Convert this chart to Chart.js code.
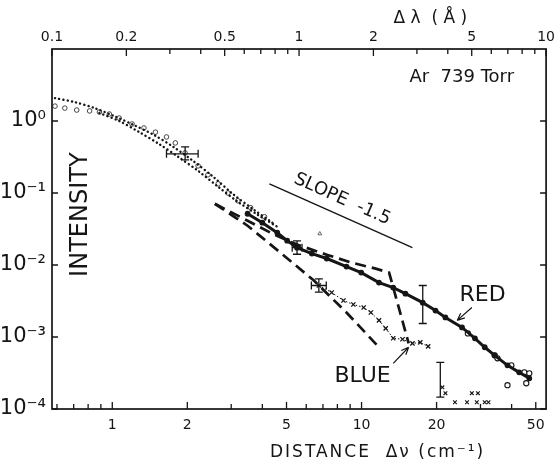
<!DOCTYPE html>
<html>
<head>
<meta charset="utf-8">
<script src="https://cdn.jsdelivr.net/npm/chart.js@4.4.1/dist/chart.umd.min.js"></script>
<style>
    html, body { margin: 0; padding: 0; background: #fff; }
</style>
</head>
<body>
<canvas id="spectrumChart" width="558" height="461"></canvas>
<script>
// Dati: distanza Δν (cm^-1) e intensità relativa
const circleX = [0.589, 0.645, 0.72, 0.811, 0.888, 0.973, 1.066, 1.20, 1.34, 1.49, 1.65, 1.79, 1.96, 2.21, 2.42, 2.66, 2.91, 3.19, 3.59, 4.08];
const circleY = [1.61, 1.51, 1.42, 1.38, 1.33, 1.25, 1.10, 0.909, 0.80, 0.70, 0.60, 0.496, 0.36, 0.238, 0.179, 0.134, 0.10, 0.078, 0.0624, 0.0468];

const redX = [3.49, 4.0, 4.59, 5.03, 5.51, 6.32, 7.25, 8.7, 9.97, 11.75, 13.4, 15.0, 17.6, 19.8, 21.7, 25.3, 28.5, 31.2, 34.2, 38.5, 42.9, 47.1];
const redY = [0.0515, 0.0387, 0.0281, 0.0218, 0.0174, 0.0144, 0.0123, 0.0095, 0.00785, 0.0057, 0.00486, 0.0040, 0.0030, 0.00233, 0.00187, 0.00136, 0.00096, 0.00072, 0.000556, 0.000404, 0.000323, 0.000267];

const tailX = [26.7, 34.2, 35.1, 39.9, 45.0, 38.5, 45.8, 47.1];
const tailY = [0.00112, 0.000556, 0.000506, 0.000404, 0.000323, 0.000214, 0.000228, 0.000313];

const blueX = [6.74, 7.59, 8.46, 9.27, 10.2, 10.9, 11.75, 12.5, 13.4, 14.6, 16.0, 17.2, 18.5];
const blueY = [0.00519, 0.00415, 0.00321, 0.00283, 0.00257, 0.00219, 0.0017, 0.00132, 0.00096, 0.00093, 0.000815, 0.00084, 0.00074];

const strayX = [21.1, 21.7, 23.7, 26.5, 27.7, 29.3, 29.0, 31.2, 32.3];
const strayY = [2.0e-4, 1.66e-4, 1.24e-4, 1.24e-4, 1.66e-4, 1.66e-4, 1.24e-4, 1.24e-4, 1.24e-4];

// curve teoriche (punteggiate e tratteggiate)
const dotAX = [0.589, 0.707, 0.849, 1.018, 1.22, 1.47, 1.76, 2.11, 2.54, 3.04, 3.66, 4.39];
const dotAY = [2.08, 1.83, 1.51, 1.17, 0.88, 0.64, 0.436, 0.279, 0.168, 0.0975, 0.060, 0.0387];
const dotBX = [0.888, 1.066, 1.28, 1.54, 1.84, 2.21, 2.66, 3.19, 3.83, 4.59];
const dotBY = [1.29, 1.0, 0.704, 0.48, 0.317, 0.203, 0.122, 0.0755, 0.0499, 0.034];

const dashRedX = [2.58, 3.49, 4.39, 5.51, 7.25, 9.1, 11.4, 12.9, 15.45];
const dashRedY = [0.0708, 0.0412, 0.0272, 0.0192, 0.0139, 0.0108, 0.0089, 0.00785, 0.000815];
const dashBlueX = [2.58, 3.49, 4.72, 6.44, 8.7, 11.75];
const dashBlueY = [0.0708, 0.0351, 0.0149, 0.00608, 0.00219, 0.00072];

const slopeX = [4.27, 16.0];
const slopeY = [0.134, 0.0174];

const triangleX = [6.8];
const triangleY = [0.0272];

// barre d'errore
const errX   = [1.96, 5.51, 6.74, 17.6, 20.7];
const errY   = [0.35, 0.0174, 0.00519, 0.0030, 2.6e-4];
const errXlo = [1.65, 5.27, 6.29, null, null];
const errXhi = [2.21, 5.77, 7.22, null, null];
const errYlo = [0.288, 0.0141, 0.0042, 0.00154, 1.46e-4];
const errYhi = [0.436, 0.0216, 0.00643, 0.00519, 4.45e-4];

// tacche degli assi
const xTicks = [0.6, 0.7, 0.8, 0.9, 1, 2, 3, 4, 5, 6, 7, 8, 9, 10, 20, 30, 40, 50];
const xLabeled = [1, 2, 5, 10, 20, 50];
const topTicks = [0.1, 0.2, 0.3, 0.4, 0.5, 0.6, 0.7, 0.8, 0.9, 1, 2, 3, 4, 5, 6, 7, 8, 9, 10];
const topLabeled = [0.1, 0.2, 0.5, 1, 2, 5, 10];
const yTicks = [1e-4, 1e-3, 1e-2, 1e-1, 1];

const FONT = "'DejaVu Sans', sans-serif";
const INK = "#151515";

function pts(xs, ys) {
    return xs.map((x, i) => ({ x: x, y: ys[i] }));
}

// esponenti in apice per le etichette 10^n
function superscript(n) {
    const map = { "-": "⁻", "0": "⁰", "1": "¹", "2": "²", "3": "³", "4": "⁴" };
    return String(n).split("").map(c => map[c]).join("");
}

// Plugin: cornice, tacche interne, titoli ed annotazioni
const paperDecor = {
    id: "paperDecor",
    afterDatasetsDraw(chart) {
        const { ctx, chartArea: a, scales } = chart;
        const sx = scales.x, sy = scales.y, st = scales.x2;
        ctx.save();
        ctx.strokeStyle = INK;
        ctx.fillStyle = INK;

        // cornice
        ctx.lineWidth = 1.7;
        ctx.strokeRect(a.left, a.top, a.right - a.left, a.bottom - a.top);

        ctx.lineWidth = 1.3;
        ctx.beginPath();
        xTicks.forEach(v => {
            const px = sx.getPixelForValue(v);
            const len = xLabeled.includes(v) ? 7 : 5;
            ctx.moveTo(px, a.bottom);
            ctx.lineTo(px, a.bottom - len);
        });
        topTicks.forEach(v => {
            const px = st.getPixelForValue(v);
            const len = topLabeled.includes(v) ? 7 : 5;
            ctx.moveTo(px, a.top);
            ctx.lineTo(px, a.top + len);
        });
        yTicks.forEach(v => {
            const py = sy.getPixelForValue(v);
            ctx.moveTo(a.left, py);
            ctx.lineTo(a.left + 6, py);
            ctx.moveTo(a.right, py);
            ctx.lineTo(a.right - 6, py);
        });
        ctx.stroke();

        // barre d'errore
        ctx.lineWidth = 1.3;
        const cap = 4;
        errX.forEach((x, i) => {
            const px = sx.getPixelForValue(x);
            const y0 = sy.getPixelForValue(errYlo[i]);
            const y1 = sy.getPixelForValue(errYhi[i]);
            ctx.beginPath();
            ctx.moveTo(px, y0); ctx.lineTo(px, y1);
            ctx.moveTo(px - cap, y0); ctx.lineTo(px + cap, y0);
            ctx.moveTo(px - cap, y1); ctx.lineTo(px + cap, y1);
            if (errXlo[i] !== null) {
                const py = sy.getPixelForValue(errY[i]);
                const x0 = sx.getPixelForValue(errXlo[i]);
                const x1 = sx.getPixelForValue(errXhi[i]);
                ctx.moveTo(x0, py); ctx.lineTo(x1, py);
                ctx.moveTo(x0, py - cap); ctx.lineTo(x0, py + cap);
                ctx.moveTo(x1, py - cap); ctx.lineTo(x1, py + cap);
            }
            ctx.stroke();
        });

        // frecce RED / BLUE
        const arrow = (xa, ya, xb, yb) => {
            const x0 = sx.getPixelForValue(xa), y0 = sy.getPixelForValue(ya);
            const x1 = sx.getPixelForValue(xb), y1 = sy.getPixelForValue(yb);
            const ang = Math.atan2(y1 - y0, x1 - x0);
            ctx.beginPath();
            ctx.moveTo(x0, y0); ctx.lineTo(x1, y1);
            ctx.moveTo(x1, y1); ctx.lineTo(x1 - 8 * Math.cos(ang - 0.4), y1 - 8 * Math.sin(ang - 0.4));
            ctx.moveTo(x1, y1); ctx.lineTo(x1 - 8 * Math.cos(ang + 0.4), y1 - 8 * Math.sin(ang + 0.4));
            ctx.stroke();
        };
        ctx.lineWidth = 1.2;
        arrow(27.7, 0.00257, 24.2, 0.0017);
        arrow(13.4, 4.3e-4, 15.45, 7.2e-4);

        ctx.textAlign = "center";
        ctx.textBaseline = "middle";
        ctx.font = "22px " + FONT;
        ctx.fillText("RED", sx.getPixelForValue(30.6), sy.getPixelForValue(0.00377));
        ctx.fillText("BLUE", sx.getPixelForValue(10.1), sy.getPixelForValue(2.85e-4));

        // testo della pendenza, ruotato come la retta
        const p0x = sx.getPixelForValue(slopeX[0]), p0y = sy.getPixelForValue(slopeY[0]);
        const p1x = sx.getPixelForValue(slopeX[1]), p1y = sy.getPixelForValue(slopeY[1]);
        const ang = Math.atan2(p1y - p0y, p1x - p0x);
        ctx.save();
        ctx.translate((p0x + p1x) / 2 + 8 * Math.sin(ang) - 2, (p0y + p1y) / 2 - 18 * Math.cos(ang));
        ctx.rotate(ang);
        ctx.font = "18px " + FONT;
        ctx.fillText("SLOPE  -1.5", 0, 0);
        ctx.restore();

        // titolo asse y dentro il grafico
        ctx.save();
        ctx.translate(a.left + 29, sy.getPixelForValue(0.05));
        ctx.rotate(-Math.PI / 2);
        ctx.font = "24px " + FONT;
        ctx.fillText("INTENSITY", 0, 0);
        ctx.restore();

        ctx.font = "18px " + FONT;
        ctx.textAlign = "right";
        ctx.fillText("Ar  739 Torr", a.right - 32, a.top + 28);

        // titoli assi x
        ctx.textAlign = "center";
        ctx.font = "17px " + FONT;
        ctx.fillText("Δ λ  ( Å )", st.getPixelForValue(3.4), 19);
        ctx.letterSpacing = "2px";
        ctx.fillText("DISTANCE  Δν (cm⁻¹)", sx.getPixelForValue(11.6), 453);
        ctx.restore();
    }
};

const ctx = document.getElementById("spectrumChart").getContext("2d");

new Chart(ctx, {
    type: "scatter",
    data: {
        datasets: [
            {
                data: pts(dotAX, dotAY), showLine: true, tension: 0.3,
                borderColor: INK, borderWidth: 2.4, borderDash: [0.1, 4.2], borderCapStyle: "round",
                pointRadius: 0
            },
            {
                data: pts(dotBX, dotBY), showLine: true, tension: 0.3,
                borderColor: INK, borderWidth: 2.4, borderDash: [0.1, 4.2], borderCapStyle: "round",
                pointRadius: 0
            },
            {
                data: pts(circleX, circleY),
                pointStyle: "circle", pointRadius: 2.3,
                pointBackgroundColor: "#fff", pointBorderColor: "#333", pointBorderWidth: 0.9
            },
            {
                data: pts(redX, redY), showLine: true,
                borderColor: INK, borderWidth: 3,
                pointRadius: 1.4, pointBackgroundColor: INK, pointBorderColor: INK
            },
            {
                data: pts(tailX, tailY),
                pointStyle: "circle", pointRadius: 2.6,
                pointBackgroundColor: "#fff", pointBorderColor: INK, pointBorderWidth: 1.1
            },
            {
                data: pts(dashRedX, dashRedY), showLine: true,
                borderColor: INK, borderWidth: 2.7, borderDash: [11, 6], pointRadius: 0
            },
            {
                data: pts(dashBlueX, dashBlueY), showLine: true,
                borderColor: INK, borderWidth: 2.7, borderDash: [11, 6], pointRadius: 0
            },
            {
                data: pts(blueX, blueY), showLine: true,
                borderColor: INK, borderWidth: 1, borderDash: [1.5, 2],
                pointStyle: "crossRot", pointRadius: 3, pointBorderColor: INK, pointBorderWidth: 1.3
            },
            {
                data: pts(strayX, strayY),
                pointStyle: "crossRot", pointRadius: 2.6, pointBorderColor: INK, pointBorderWidth: 1.1
            },
            {
                data: pts(slopeX, slopeY), showLine: true,
                borderColor: INK, borderWidth: 1.4, pointRadius: 0
            },
            {
                data: pts(triangleX, triangleY),
                pointStyle: "triangle", pointRadius: 2.2,
                pointBackgroundColor: "#fff", pointBorderColor: "#444", pointBorderWidth: 0.8
            }
        ]
    },
    options: {
        responsive: false,
        animation: false,
        events: [],
        layout: { padding: { left: 0, right: 6, top: 0, bottom: 0 } },
        plugins: {
            legend: { display: false },
            tooltip: { enabled: false }
        },
        scales: {
            x: {
                type: "logarithmic", position: "bottom", min: 0.573, max: 55,
                grid: { display: false, drawTicks: false }, border: { display: false },
                ticks: {
                    autoSkip: false, maxRotation: 0, padding: 8, color: INK,
                    font: { family: FONT, size: 14 },
                    callback: v => xLabeled.includes(v) ? String(v) : ""
                },
                afterBuildTicks: s => { s.ticks = xTicks.map(v => ({ value: v })); },
                afterFit: s => { s.height = 52; }
            },
            x2: {
                type: "logarithmic", position: "top", min: 0.1, max: 10,
                grid: { display: false, drawTicks: false }, border: { display: false },
                ticks: {
                    autoSkip: false, maxRotation: 0, padding: 3, color: INK,
                    font: { family: FONT, size: 14 },
                    callback: v => topLabeled.includes(v) ? String(v) : ""
                },
                afterBuildTicks: s => { s.ticks = topTicks.map(v => ({ value: v })); },
                afterFit: s => { s.height = 49; }
            },
            y: {
                type: "logarithmic", position: "left", min: 1e-4, max: 10,
                grid: { display: false, drawTicks: false }, border: { display: false },
                ticks: {
                    autoSkip: false, padding: 6, color: INK,
                    font: { family: FONT, size: 21 },
                    callback: v => "10" + superscript(Math.round(Math.log10(v)))
                },
                afterBuildTicks: s => { s.ticks = yTicks.map(v => ({ value: v })); },
                afterFit: s => { s.width = 52; }
            }
        }
    },
    plugins: [paperDecor]
});
</script>
</body>
</html>
